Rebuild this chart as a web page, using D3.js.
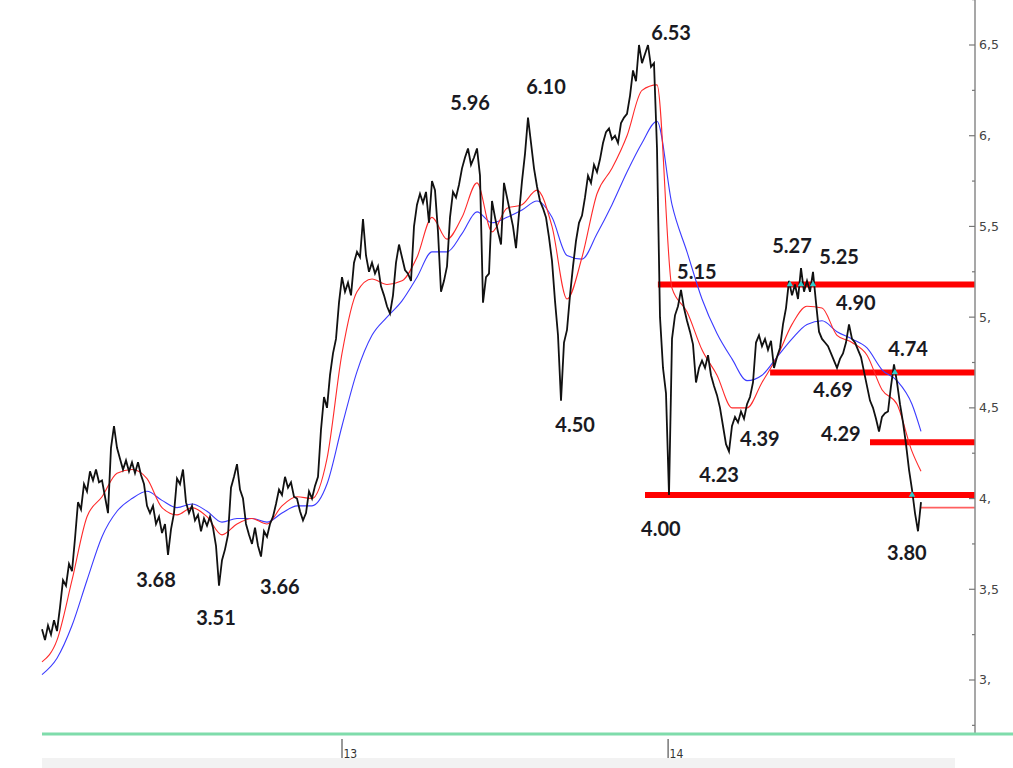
<!DOCTYPE html>
<html>
<head>
<meta charset="utf-8">
<script src="https://cdn.jsdelivr.net/npm/d3@7"></script>
<style>
  html, body { margin: 0; padding: 0; background: #fff; }
  svg { display: block; }
</style>
</head>
<body>
<svg id="chart" width="1013" height="768"></svg>
<script>
// ---- DATA ----
const price = [
  3.28,3.22,3.30,3.25,3.33,3.27,3.40,3.55,3.52,3.64,
  3.60,3.78,3.98,3.94,4.08,4.04,4.15,4.10,4.16,4.09,
  4.10,4.01,3.92,4.28,4.40,4.28,4.22,4.16,4.21,4.15,
  4.20,4.14,4.20,4.13,4.08,3.96,3.92,3.96,3.86,3.90,
  3.81,3.86,3.69,3.83,3.92,4.11,4.08,4.16,3.98,3.92,
  3.96,3.88,3.91,3.82,3.89,3.85,3.90,3.84,3.74,3.52,
  3.66,3.72,3.80,4.06,4.12,4.19,4.05,4.00,3.86,3.80,
  3.75,3.84,3.74,3.68,3.82,3.79,3.86,3.90,3.97,4.05,
  4.02,4.12,4.06,4.09,4.01,4.00,3.93,3.88,3.92,4.04,
  4.00,4.07,4.12,4.38,4.56,4.50,4.68,4.80,4.88,5.08,
  5.22,5.14,5.19,5.12,5.30,5.36,5.33,5.54,5.34,5.25,
  5.30,5.24,5.28,5.17,5.12,5.06,5.02,5.12,5.30,5.40,
  5.33,5.26,5.24,5.20,5.50,5.62,5.68,5.63,5.69,5.52,
  5.75,5.70,5.47,5.14,5.20,5.28,5.55,5.69,5.66,5.73,
  5.82,5.88,5.93,5.84,5.88,5.93,5.78,5.08,5.22,5.24,
  5.64,5.55,5.47,5.40,5.74,5.66,5.58,5.50,5.38,5.57,
  5.75,5.90,6.10,5.96,5.82,5.72,5.64,5.60,5.55,5.44,
  5.31,5.09,4.90,4.54,4.86,4.93,5.12,5.28,5.42,5.52,
  5.56,5.66,5.78,5.74,5.84,5.80,5.87,5.96,6.02,6.04,
  5.98,6.00,5.96,6.07,6.10,6.12,6.22,6.36,6.30,6.50,
  6.40,6.45,6.50,6.38,6.40,5.93,5.00,4.72,4.58,4.02,
  4.88,5.01,5.06,5.15,5.05,4.98,4.92,4.85,4.64,4.72,
  4.76,4.72,4.79,4.68,4.62,4.57,4.50,4.40,4.30,4.26,
  4.40,4.45,4.42,4.48,4.44,4.52,4.56,4.64,4.86,4.90,
  4.84,4.88,4.82,4.87,4.72,4.78,4.83,4.96,5.05,5.20,
  5.12,5.18,5.10,5.27,5.14,5.20,5.14,5.25,5.08,4.92,
  4.88,4.86,4.84,4.80,4.76,4.72,4.77,4.80,4.86,4.96,
  4.88,4.86,4.82,4.78,4.70,4.62,4.54,4.50,4.44,4.37,
  4.45,4.47,4.48,4.62,4.74,4.64,4.52,4.42,4.30,4.16,
  4.05,3.92,3.82,3.98
];

// moving averages, sampled every 5 sessions (last point = last session)
const maDays = [
  0,5,10,15,20,25,30,35,40,45,50,55,60,65,70,75,80,85,90,95,
  100,105,110,115,120,125,130,135,140,145,150,155,160,165,170,175,180,185,190,195,
  200,205,210,215,220,225,230,235,240,245,250,255,260,265,270,275,280,285,290,293
];
const maFast = [
  3.10,3.22,3.55,3.90,4.01,4.14,4.16,4.11,3.95,3.91,
  3.95,3.90,3.80,3.86,3.89,3.86,3.96,4.01,4.00,4.22,
  4.80,5.14,5.21,5.18,5.20,5.33,5.55,5.43,5.55,5.74,
  5.47,5.60,5.62,5.70,5.50,5.10,5.33,5.68,5.82,6.00,
  6.25,6.28,5.16,5.03,4.82,4.68,4.50,4.50,4.64,4.78,
  4.96,5.06,5.05,4.90,4.86,4.79,4.60,4.52,4.26,4.15
];
const maSlow = [
  3.03,3.12,3.30,3.55,3.79,3.93,4.00,4.04,3.99,3.95,
  3.97,3.93,3.87,3.89,3.89,3.87,3.92,3.96,3.96,4.08,
  4.40,4.70,4.90,5.00,5.09,5.22,5.36,5.36,5.46,5.58,
  5.52,5.55,5.59,5.64,5.55,5.34,5.32,5.46,5.62,5.80,
  5.96,6.08,5.62,5.36,5.10,4.91,4.77,4.65,4.68,4.78,
  4.88,4.96,4.98,4.92,4.88,4.83,4.71,4.65,4.52,4.37
];

// horizontal support / resistance levels
const levelValues = [5.18, 4.695, 4.31, 4.02];
const levelStartDays = [205.3, 242.7, 276, 201];
const lastMarkValue = 3.95;
const lastMarkStartDay = 293;

// touch markers (cyan)
const touchDays = [249.3, 253, 257, 284.3, 290];
const touchValues = [5.18, 5.18, 5.18, 4.695, 4.02];

// annotations
const annText = ["6.53","5.96","6.10","4.50","5.15","5.27","5.25","4.90","4.74","4.69","4.39","4.29","4.23","4.00","3.80","3.68","3.51","3.66"];
const annDays = [209.7,142.7,168,177.7,218.3,250,265.7,271.3,288.7,263.7,239.3,266.3,225.7,206.3,288.3,38,58,79.3];
const annValues = [6.57,6.18,6.267,4.408,5.252,5.395,5.335,5.081,4.827,4.601,4.331,4.359,4.132,3.835,3.702,3.553,3.344,3.515];

// axis ticks
const yTickValues = [3, 3.5, 4, 4.5, 5, 5.5, 6, 6.5];
const yTickLabels = ["3,", "3,5", "4,", "4,5", "5,", "5,5", "6,", "6,5"];
const yMinorValues = [2.75, 3.25, 3.75, 4.25, 4.75, 5.25, 5.75, 6.25, 6.75];
const xTickDays = [100, 208.7];
const xTickLabels = ["13", "14"];

// ---- CHART ----
const svg = d3.select("#chart");
const x = d3.scaleLinear().domain([0, 293]).range([42, 921]);
const y = d3.scaleLinear().domain([3, 6.5]).range([680, 45]);
const axisX = 975;

// bottom grey band
svg.append("rect").attr("x", 42).attr("y", 758).attr("width", 913).attr("height", 10).attr("fill", "#f2f2f2");

// levels
svg.append("g").selectAll("line").data(levelValues).join("line")
  .attr("x1", (d, i) => x(levelStartDays[i])).attr("x2", axisX)
  .attr("y1", d => y(d)).attr("y2", d => y(d))
  .attr("stroke", "#ff0000").attr("stroke-width", 6);
svg.append("line")
  .attr("x1", x(lastMarkStartDay)).attr("x2", axisX)
  .attr("y1", y(lastMarkValue)).attr("y2", y(lastMarkValue))
  .attr("stroke", "#ff6060").attr("stroke-width", 1.6);

// moving averages
const maLine = arr => d3.line().x((d, i) => x(maDays[i])).y(d => y(d)).curve(d3.curveMonotoneX)(arr);
svg.append("path").attr("d", maLine(maSlow)).attr("fill", "none").attr("stroke", "#3b3bff").attr("stroke-width", 1.1);
svg.append("path").attr("d", maLine(maFast)).attr("fill", "none").attr("stroke", "#ff2a2a").attr("stroke-width", 1.1);

// price
const priceLine = d3.line().x((d, i) => x(i)).y(d => y(d));
svg.append("path").attr("d", priceLine(price)).attr("fill", "none")
  .attr("stroke", "#111").attr("stroke-width", 1.8).attr("stroke-linejoin", "miter");

// touch markers
svg.append("g").selectAll("path").data(touchDays).join("path")
  .attr("d", d3.symbol().type(d3.symbolTriangle).size(18))
  .attr("transform", (d, i) => `translate(${x(d)},${y(touchValues[i])})`)
  .attr("fill", "#33cccc");

// right axis
svg.append("line").attr("x1", axisX).attr("x2", axisX).attr("y1", 0).attr("y2", 735)
  .attr("stroke", "#8a8a8a").attr("stroke-width", 1.5);
const ya = svg.append("g");
ya.selectAll("line.major").data(yTickValues).join("line").attr("class", "major")
  .attr("x1", axisX - 6).attr("x2", axisX).attr("y1", d => y(d)).attr("y2", d => y(d))
  .attr("stroke", "#777").attr("stroke-width", 1.2);
ya.selectAll("line.minor").data(yMinorValues).join("line").attr("class", "minor")
  .attr("x1", axisX - 3).attr("x2", axisX).attr("y1", d => y(d)).attr("y2", d => y(d))
  .attr("stroke", "#777").attr("stroke-width", 1.2);
ya.selectAll("text").data(yTickValues).join("text")
  .attr("x", axisX + 4).attr("y", d => y(d)).attr("dy", "0.35em")
  .attr("font-family", "DejaVu Sans, Verdana, sans-serif").attr("font-size", 12.5)
  .attr("fill", "#444").text((d, i) => yTickLabels[i]);

// bottom green line
svg.append("line").attr("x1", 42).attr("x2", 1013).attr("y1", 734).attr("y2", 734)
  .attr("stroke", "#7fdcab").attr("stroke-width", 3);

// x ticks
const xa = svg.append("g");
xa.selectAll("line").data(xTickDays).join("line")
  .attr("x1", d => x(d)).attr("x2", d => x(d)).attr("y1", 739).attr("y2", 758)
  .attr("stroke", "#555").attr("stroke-width", 1.2);
xa.selectAll("text").data(xTickDays).join("text")
  .attr("x", d => x(d) + 1.5).attr("y", 758)
  .attr("font-family", "Liberation Sans Narrow, DejaVu Sans Condensed, sans-serif").attr("font-size", 12)
  .attr("fill", "#333").text((d, i) => xTickLabels[i]);

// annotations
svg.append("g").selectAll("text").data(annText).join("text")
  .attr("x", (d, i) => x(annDays[i])).attr("y", (d, i) => y(annValues[i]))
  .attr("text-anchor", "middle").attr("dy", "0.36em")
  .attr("font-family", "Lato, 'Open Sans', sans-serif").attr("font-weight", "bold").attr("font-size", 20)
  .attr("fill", "#1a1a22").text(d => d);
</script>
</body>
</html>
